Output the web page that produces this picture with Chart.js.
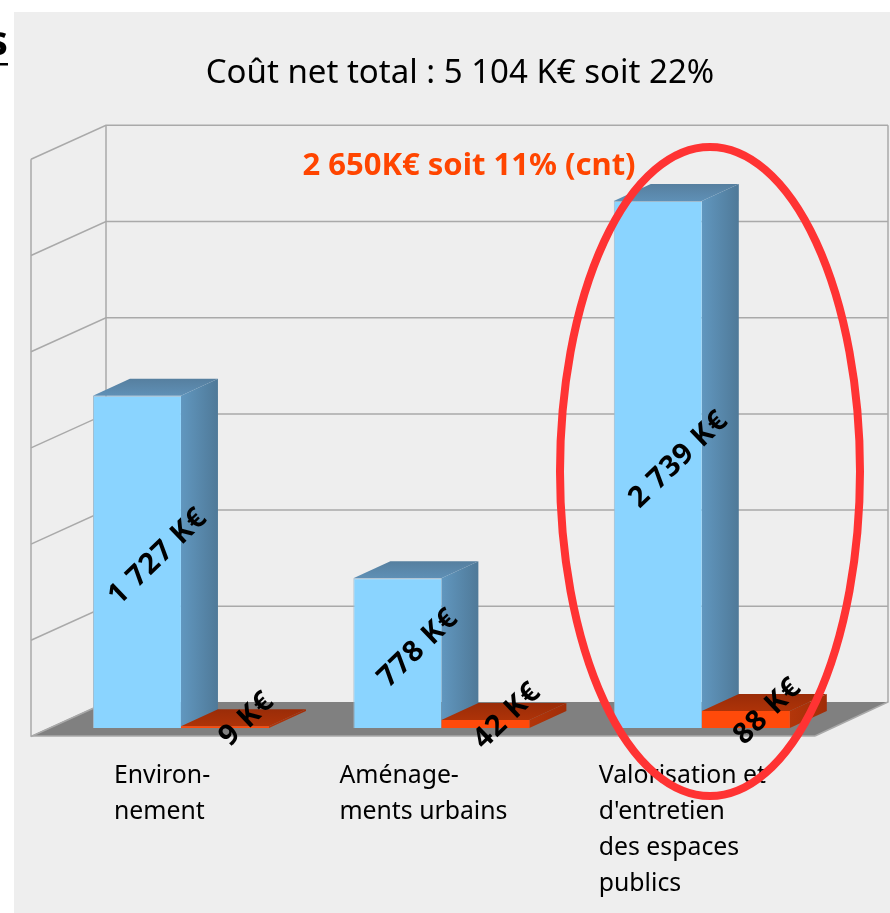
<!DOCTYPE html>
<html>
<head>
<meta charset="utf-8">
<style>html,body{margin:0;padding:0;background:#fff}#w{width:890px;height:913px;position:relative}canvas{display:block}</style>
<script src="https://cdn.jsdelivr.net/npm/chart.js@4/dist/chart.umd.min.js"></script>
</head>
<body>
<div id="w"><canvas id="c" width="890" height="913"></canvas></div>
<script>
const categories = [["Environ-","nement"],["Aménage-","ments urbains"],["Valorisation et","d'entretien","des espaces","publics"]];
const categoryTextOffsets = [-67,-102,-103];
const coutNet = [1727,778,2739];
const coutCnt = [9,42,88];
const labelsNet = ["1 727 K€","778 K€","2 739 K€"];
const labelsCnt = ["9 K€","42 K€","88 K€"];
const titleText = "Coût net total : 5 104 K€ soit 22%";
const noteText = "2 650K€ soit 11% (cnt)";
const FONT = '"Noto Sans","DejaVu Sans",sans-serif';
const DX=37, DY=-17;

function poly(ctx,pts,fill){ctx.beginPath();pts.forEach((p,i)=>i?ctx.lineTo(p[0],p[1]):ctx.moveTo(p[0],p[1]));ctx.closePath();ctx.fillStyle=fill;ctx.fill();}
function grad(ctx,x0,x1,c0,c1){const g=ctx.createLinearGradient(x0,0,x1,0);g.addColorStop(0,c0);g.addColorStop(1,c1);return g;}
function vgrad(ctx,y0,y1,c0,c1){const g=ctx.createLinearGradient(0,y0,0,y1);g.addColorStop(0,c0);g.addColorStop(1,c1);return g;}

const scene={
 id:'scene',
 beforeDatasetsDraw(chart){
  const ctx=chart.ctx,y=chart.scales.y;
  ctx.save();
  ctx.fillStyle='#eeeeee';ctx.fillRect(14,12,876,901);
  // cropped heading fragment
  ctx.fillStyle='#000';ctx.font='bold 42px '+FONT;ctx.textAlign='right';ctx.textBaseline='alphabetic';
  ctx.fillText('s',8,55);ctx.fillRect(0,63,8,2.5);
  // floor
  const base=y.getPixelForValue(0);
  poly(ctx,[[31,base+8],[815,base+8],[888,base-26],[106,base-26]],'#808080');
  ctx.strokeStyle='#a9a9a9';ctx.lineWidth=1.5;
  y.ticks.forEach(t=>{
   const p=y.getPixelForValue(t.value)+0.5;
   ctx.beginPath();ctx.moveTo(31,p+8);ctx.lineTo(106,p-26);
   if(t.value>0)ctx.lineTo(888,p-26);
   ctx.stroke();
  });
  const top=y.getPixelForValue(y.max)+0.5;
  ctx.beginPath();ctx.moveTo(31,top+8);ctx.lineTo(31,base+8);ctx.lineTo(815,base+8);ctx.stroke();
  ctx.beginPath();ctx.moveTo(106,top-26);ctx.lineTo(106,base-26);ctx.stroke();
  ctx.beginPath();ctx.moveTo(888,top-26);ctx.lineTo(888,base-26);ctx.lineTo(815,base+8);ctx.stroke();
  // bar depth faces
  const styles=[
   {t0:'#567f9f',t1:'#5f90b6',s0:'#6197bf',s1:'#4f7998'},
   {t0:'#9a2c08',t1:'#ae3308',s0:'#b3360a',s1:'#a02d08'}];
  chart.data.datasets.forEach((d,di)=>{
   const st=styles[di];
   chart.getDatasetMeta(di).data.forEach(b=>{
    const l=b.x-b.width/2,r=b.x+b.width/2,t=b.y,bt=b.base;
    poly(ctx,[[l,t],[l+DX,t+DY],[r+DX,t+DY],[r,t]],vgrad(ctx,t+DY,t,st.t0,st.t1));
    poly(ctx,[[r,t],[r+DX,t+DY],[r+DX,bt+DY],[r,bt]],grad(ctx,r,r+DX,st.s0,st.s1));
   });
  });
  ctx.restore();
 },
 afterDatasetsDraw(chart){
  const ctx=chart.ctx,x=chart.scales.x;
  ctx.save();
  ctx.textBaseline='middle';ctx.fillStyle='#000';
  // category labels
  ctx.font='24.8px '+FONT;ctx.textAlign='left';
  categories.forEach((lines,i)=>{
   const px=x.getPixelForTick(i)+categoryTextOffsets[i];
   lines.forEach((s,j)=>ctx.fillText(s,px,776+j*36));
  });
  // title and note
  ctx.textAlign='center';
  ctx.font='33px '+FONT;ctx.fillText(titleText,460,74);
  ctx.fillStyle='#ff4500';ctx.font='bold 31px '+FONT;ctx.fillText(noteText,469,166);
  // value labels
  ctx.fillStyle='#000';ctx.font='bold 29px '+FONT;ctx.letterSpacing='1px';
  [[labelsNet,21,-5],[labelsCnt,22,-8]].forEach(([labs,ox,oy],di)=>{
   chart.getDatasetMeta(di).data.forEach((b,i)=>{
    const c=b.getCenterPoint();
    ctx.save();ctx.translate(c.x+ox,c.y+oy);ctx.rotate(-44*Math.PI/180);ctx.fillText(labs[i],0,0);ctx.restore();
   });
  });
  ctx.letterSpacing='0px';
  // highlight ellipse
  ctx.strokeStyle='#ff3333';ctx.lineWidth=8;
  ctx.beginPath();ctx.ellipse(710,471.5,150,324.5,0,0,Math.PI*2);ctx.stroke();
  ctx.restore();
 }
};

new Chart(document.getElementById('c'),{
 type:'bar',
 data:{labels:categories,datasets:[
  {label:'Coût net',data:coutNet,backgroundColor:'#8ad4ff',borderColor:'#9fb9cc',borderWidth:{left:1,top:1,right:0,bottom:0},borderSkipped:false},
  {label:'Coût net (cnt)',data:coutCnt,backgroundColor:'#ff4a0a'}
 ]},
 options:{
  responsive:false,animation:false,
  layout:{padding:{left:50.75,right:58,top:150.8,bottom:185}},
  categoryPercentage:0.676,barPercentage:1,
  plugins:{legend:{display:false},tooltip:{enabled:false},title:{display:false}},
  scales:{
   x:{display:false},
   y:{display:false,min:0,max:3000,ticks:{stepSize:500}}
  }
 },
 plugins:[scene]
});
</script>
</body>
</html>
